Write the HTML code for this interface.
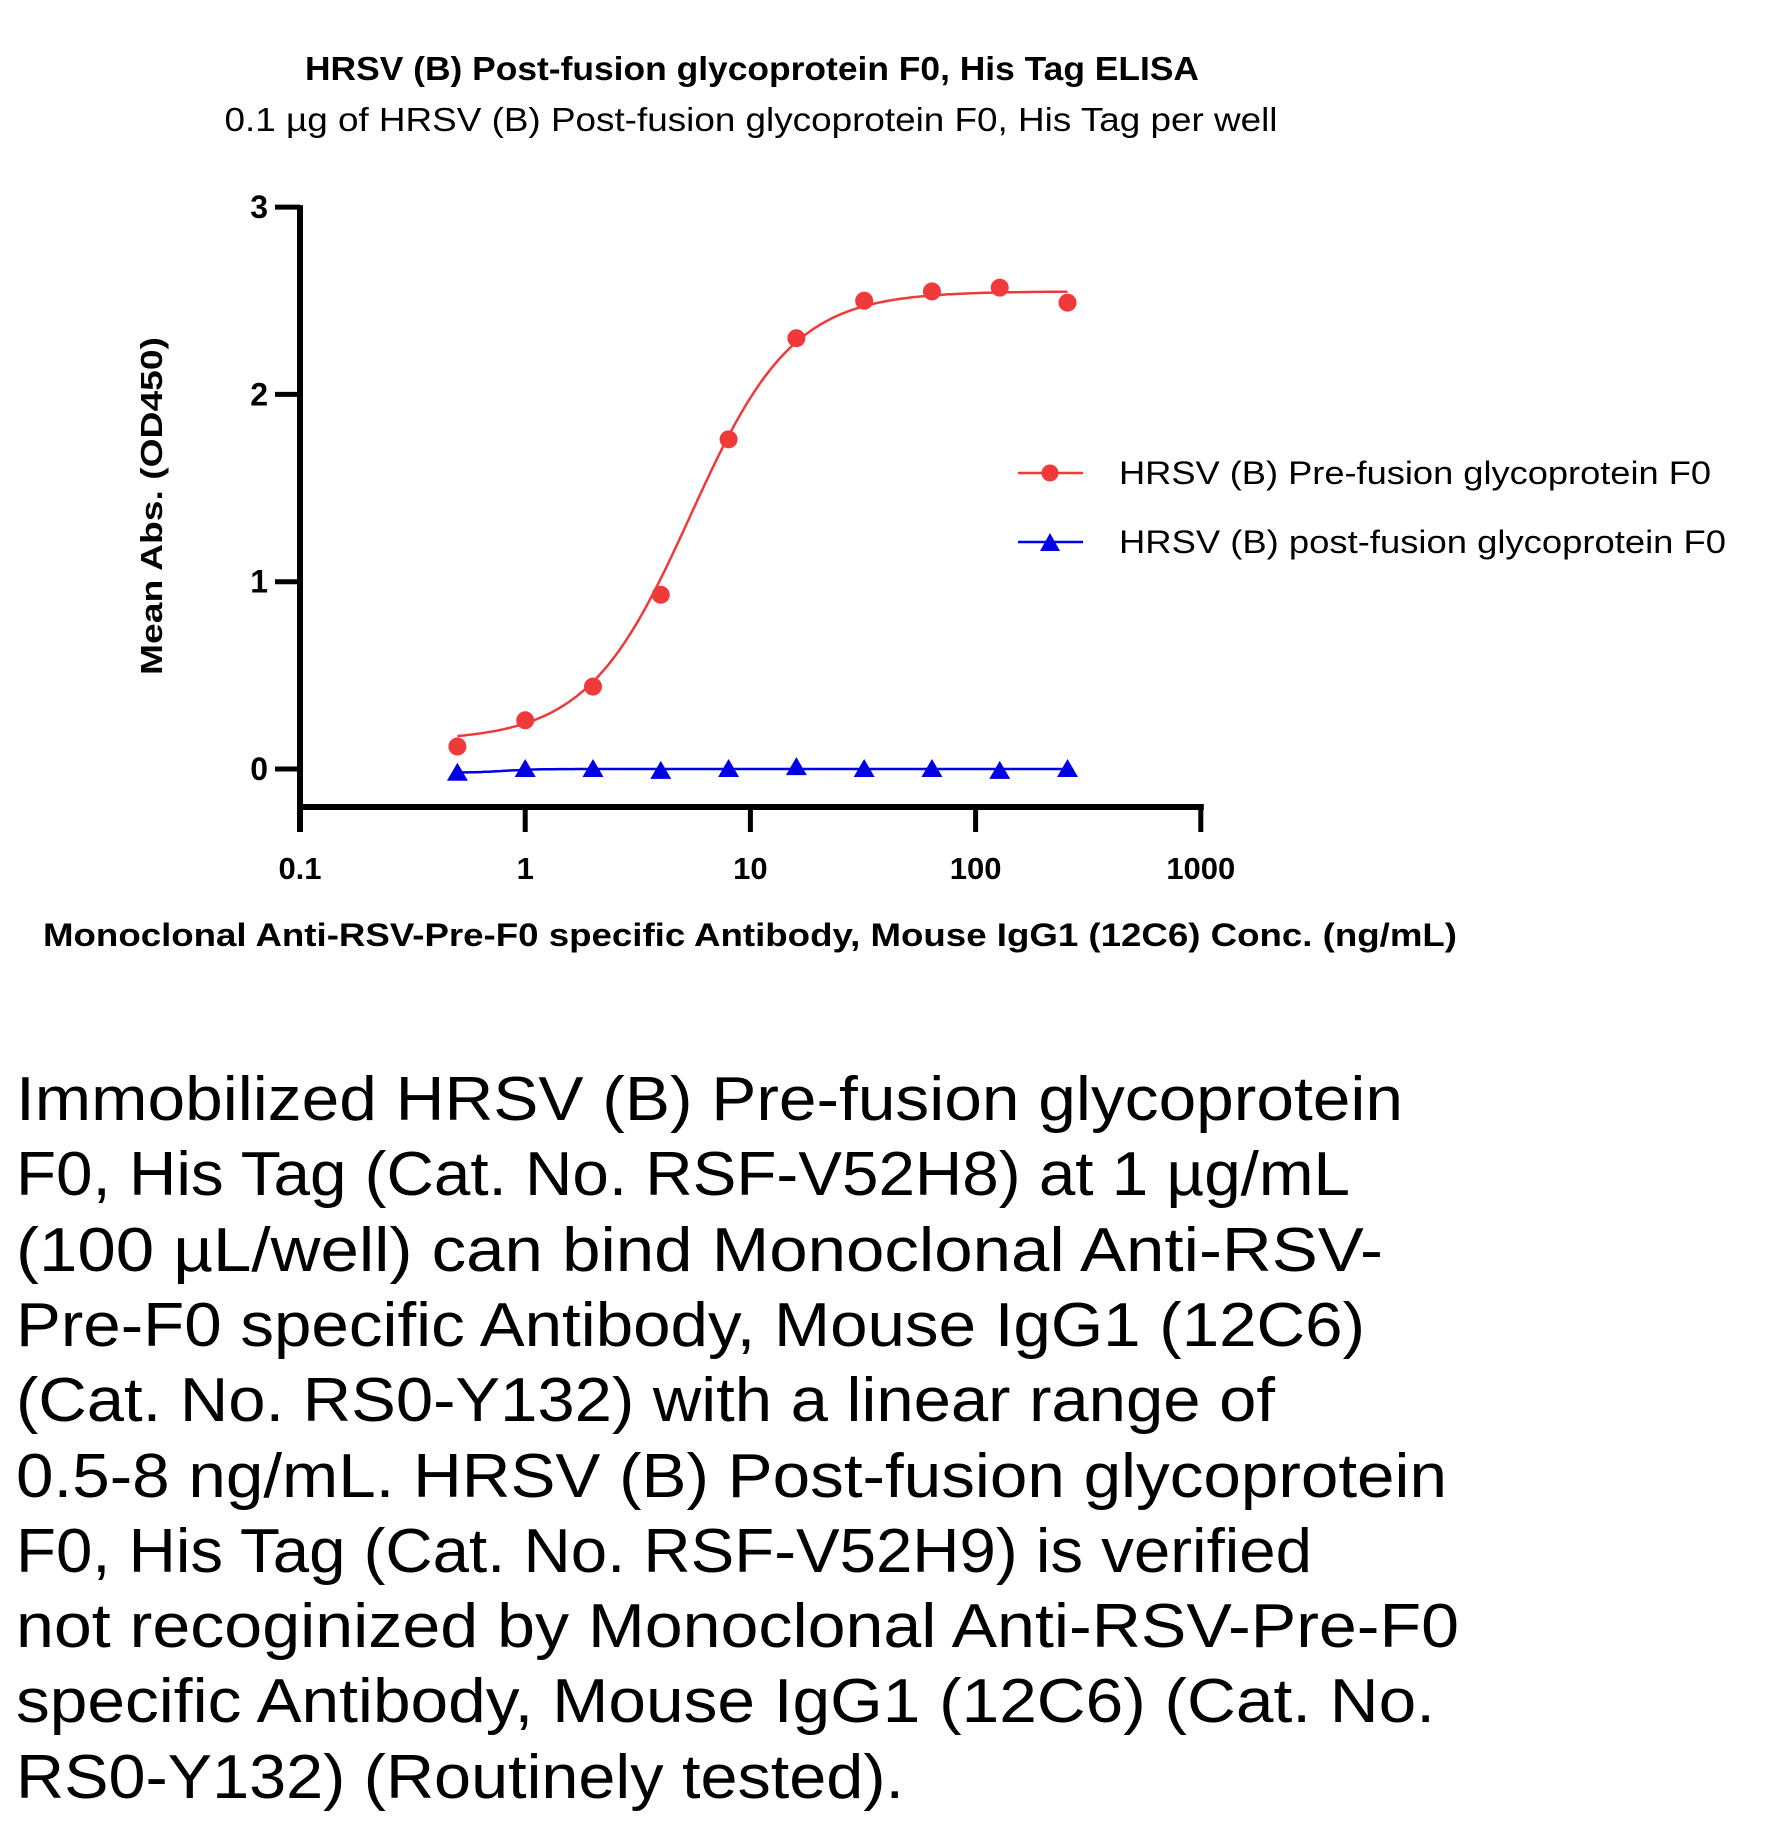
<!DOCTYPE html>
<html><head><meta charset="utf-8"><style>
body{margin:0;background:#fff}
svg{display:block}
text{font-family:"Liberation Sans",sans-serif}
</style></head><body>
<svg id="chart" width="1768" height="1823" viewBox="0 0 1768 1823" xmlns="http://www.w3.org/2000/svg">
<text x="752" y="80" text-anchor="middle" font-size="33" font-weight="bold" textLength="894" lengthAdjust="spacingAndGlyphs">HRSV (B) Post-fusion glycoprotein F0, His Tag ELISA</text>
<text x="751" y="131" text-anchor="middle" font-size="33" textLength="1053" lengthAdjust="spacingAndGlyphs">0.1 µg of HRSV (B) Post-fusion glycoprotein F0, His Tag per well</text>
<g id="axes"></g>
<g id="series"></g>
<text transform="translate(162,506) rotate(-90)" text-anchor="middle" font-size="31" font-weight="bold" textLength="338" lengthAdjust="spacingAndGlyphs">Mean Abs. (OD450)</text>
<text x="43" y="946" font-size="32" font-weight="bold" textLength="1414" lengthAdjust="spacingAndGlyphs">Monoclonal Anti-RSV-Pre-F0 specific Antibody, Mouse IgG1 (12C6) Conc. (ng/mL)</text>
<g>
<line x1="1018" y1="473" x2="1083" y2="473" stroke="#f03a3a" stroke-width="2.5"/>
<circle cx="1050" cy="473" r="8.5" fill="#f03a3a"/>
<text x="1119" y="484" font-size="32" textLength="592" lengthAdjust="spacingAndGlyphs">HRSV (B) Pre-fusion glycoprotein F0</text>
<line x1="1018" y1="542" x2="1083" y2="542" stroke="#0000e6" stroke-width="2.5"/>
<polygon points="1050,533 1060,551 1040,551" fill="#0000e6"/>
<text x="1119" y="553" font-size="32" textLength="607" lengthAdjust="spacingAndGlyphs">HRSV (B) post-fusion glycoprotein F0</text>
</g>
<g font-size="62">
<text x="16" y="1120" textLength="1387" lengthAdjust="spacingAndGlyphs">Immobilized HRSV (B) Pre-fusion glycoprotein</text>
<text x="16" y="1195" textLength="1334" lengthAdjust="spacingAndGlyphs">F0, His Tag (Cat. No. RSF-V52H8) at 1 µg/mL</text>
<text x="16" y="1271" textLength="1367" lengthAdjust="spacingAndGlyphs">(100 µL/well) can bind Monoclonal Anti-RSV-</text>
<text x="16" y="1346" textLength="1349" lengthAdjust="spacingAndGlyphs">Pre-F0 specific Antibody, Mouse IgG1 (12C6)</text>
<text x="16" y="1421" textLength="1259" lengthAdjust="spacingAndGlyphs">(Cat. No. RS0-Y132) with a linear range of</text>
<text x="16" y="1497" textLength="1431" lengthAdjust="spacingAndGlyphs">0.5-8 ng/mL. HRSV (B) Post-fusion glycoprotein</text>
<text x="16" y="1572" textLength="1296" lengthAdjust="spacingAndGlyphs">F0, His Tag (Cat. No. RSF-V52H9) is verified</text>
<text x="16" y="1647" textLength="1443" lengthAdjust="spacingAndGlyphs">not recoginized by Monoclonal Anti-RSV-Pre-F0</text>
<text x="16" y="1722" textLength="1419" lengthAdjust="spacingAndGlyphs">specific Antibody, Mouse IgG1 (12C6) (Cat. No.</text>
<text x="16" y="1798" textLength="888" lengthAdjust="spacingAndGlyphs">RS0-Y132) (Routinely tested).</text>
</g>
</svg>
<script>
const concentrations = [0.5, 1, 2, 4, 8, 16, 32, 64, 128, 256];
const preFusion = [0.12, 0.26, 0.44, 0.93, 1.76, 2.30, 2.50, 2.55, 2.57, 2.49];
const postFusion = [-0.02, 0.0, 0.0, -0.01, 0.0, 0.01, 0.0, 0.0, -0.01, 0.0];
const preFitParams = [0.15, 2.55, 5.4, 1.9]; // bottom, top, EC50, hill
const postFitParams = [-0.02, 0.0, 0.8, 6];
const xTicks = [0.1, 1, 10, 100, 1000];
const xTickLabels = ["0.1", "1", "10", "100", "1000"];
const yTicks = [0, 1, 2, 3];
const yTickLabels = ["0", "1", "2", "3"];

const NS = "http://www.w3.org/2000/svg";
const X0 = 300, DEC = 225.2, Y0 = 769, UNIT = 187.3, AXY = 807;
function xs(v){ return X0 + (Math.log10(v) - Math.log10(0.1)) * DEC; }
function ys(v){ return Y0 - v * UNIT; }
function mk(tag, attrs, parent){ const e = document.createElementNS(NS, tag); for (const k in attrs) e.setAttribute(k, attrs[k]); parent.appendChild(e); return e; }

const axes = document.getElementById('axes');
const ya = mk('line', {x1: X0, y1: ys(3) - 2, x2: X0, y2: AXY + 25, stroke: '#000', 'stroke-width': 6}, axes);


const xa = mk('line', {x1: X0 - 3, y1: AXY, x2: xs(1000) + 3, y2: AXY, stroke: '#000', 'stroke-width': 6}, axes);


yTicks.forEach((t, i) => {
  const l = mk('line', {x1: X0 - 25, y1: ys(t), x2: X0, y2: ys(t), stroke: '#000', 'stroke-width': 5}, axes);
  
  
  const tx = mk('text', {x: X0 - 32, y: ys(t) + 11, 'text-anchor': 'end', 'font-size': 32, 'font-weight': 'bold'}, axes);
  tx.textContent = yTickLabels[i];
  
  
});
xTicks.forEach((t, i) => {
  const l = mk('line', {x1: xs(t), y1: AXY, x2: xs(t), y2: AXY + 25, stroke: '#000', 'stroke-width': 5}, axes);
  
  
  const tx = mk('text', {x: xs(t), y: 879, 'text-anchor': 'middle', 'font-size': 31, 'font-weight': 'bold'}, axes);
  tx.textContent = xTickLabels[i];
  
  
});

function fit(p, x){ return p[0] + (p[1] - p[0]) / (1 + Math.pow(p[2] / x, p[3])); }
function curvePath(p){
  const lo = Math.log10(concentrations[0]), hi = Math.log10(concentrations[concentrations.length - 1]);
  let d = '';
  for (let i = 0; i <= 200; i++) {
    const x = Math.pow(10, lo + (hi - lo) * i / 200);
    d += (i ? 'L' : 'M') + xs(x).toFixed(1) + ',' + ys(fit(p, x)).toFixed(1);
  }
  return d;
}
const series = document.getElementById('series');
const c1 = mk('path', {d: curvePath(preFitParams), fill: 'none', stroke: '#f03a3a', 'stroke-width': 2.5}, series);


const c2 = mk('path', {d: curvePath(postFitParams), fill: 'none', stroke: '#0000e6', 'stroke-width': 2.5}, series);


concentrations.forEach((c, i) => {
  const p = mk('circle', {cx: xs(c), cy: ys(preFusion[i]), r: 9, fill: '#f03a3a'}, series);
  
  
  const x = xs(c), y = ys(postFusion[i]);
  const t = mk('polygon', {points: `${x},${y-10} ${x+10.5},${y+8} ${x-10.5},${y+8}`, fill: '#0000e6'}, series);
  
  
});
</script>
</body></html>
